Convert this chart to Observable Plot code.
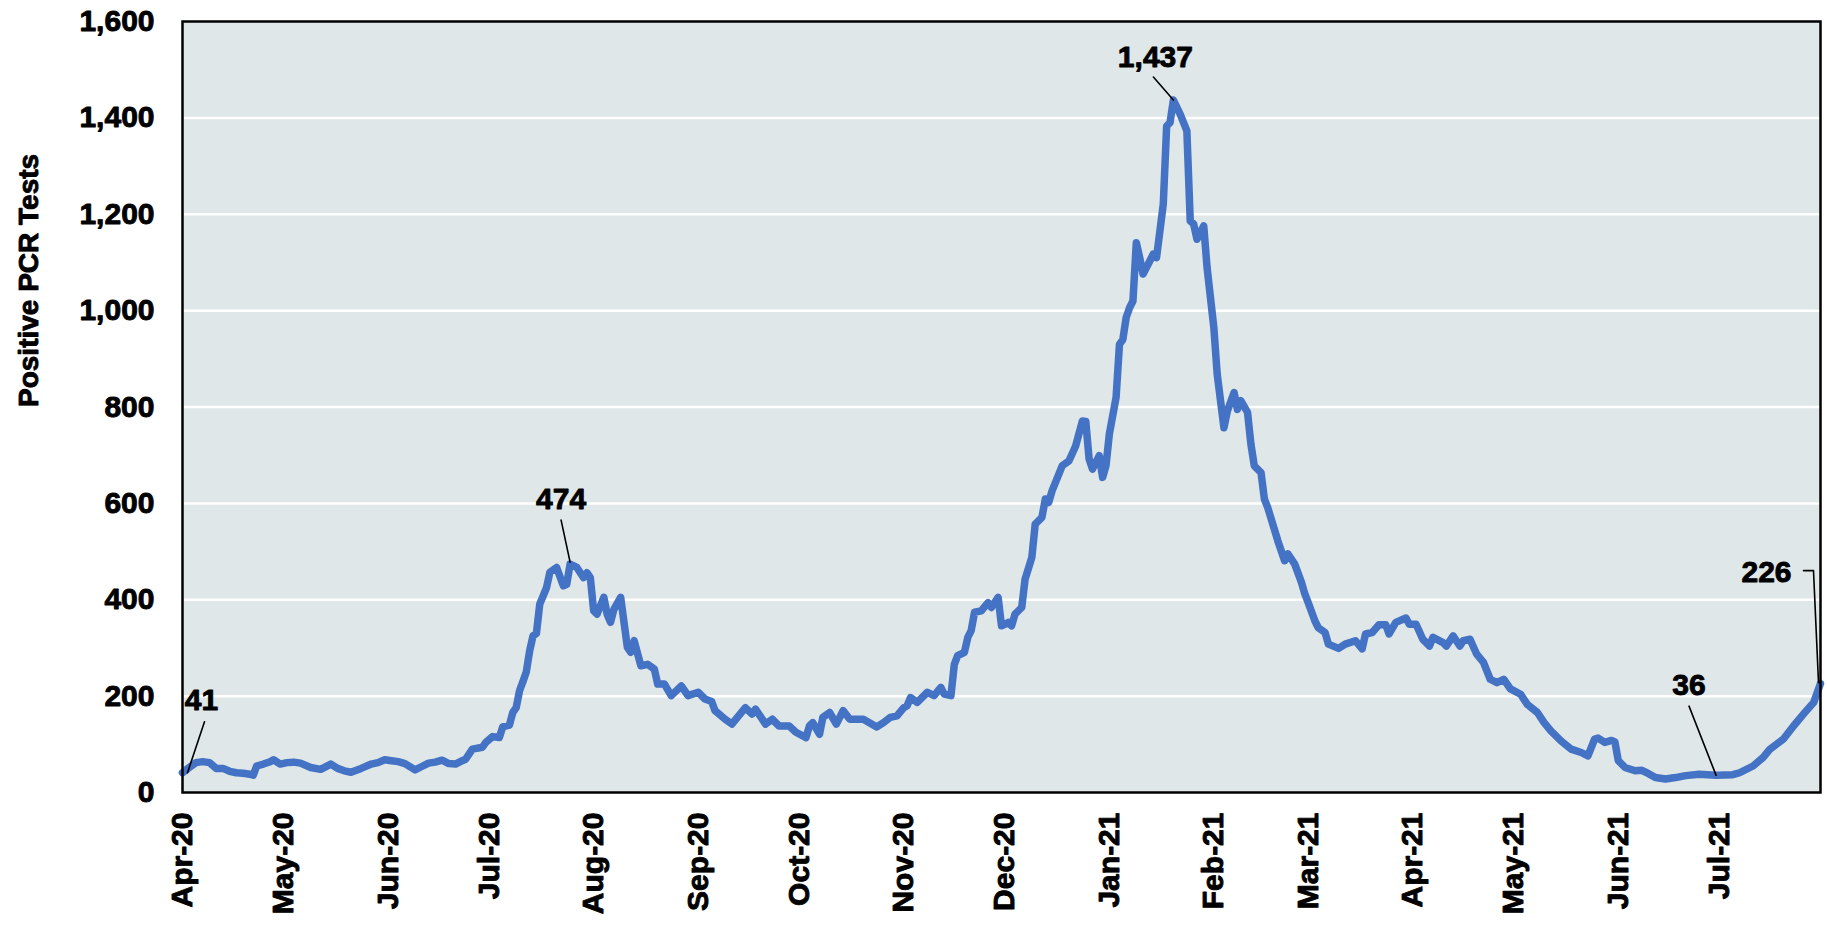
<!DOCTYPE html>
<html>
<head>
<meta charset="utf-8">
<script src="https://cdn.jsdelivr.net/npm/d3@7"></script>
<script src="https://cdn.jsdelivr.net/npm/@observablehq/plot@0.6"></script>
<style>
  html, body { margin: 0; padding: 0; background: #ffffff; }
  #chart svg text { stroke: #000; stroke-width: 0.9px; paint-order: stroke; stroke-linejoin: round; }
</style>
</head>
<body>
<div id="chart"></div>
<script>
// ---------------- DATA ----------------
const startDate = "2020-04-01";
const endDate = "2021-07-31";

// days since startDate
const dayIndex = [
  0,2,4,6,8,10,12,14,16,18,20,21,22,24,26,27,29,31,33,35,38,41,44,46,48,50,53,56,58,60,
  62,64,66,69,71,73,75,77,79,81,83,84,86,89,90,92,94,95,97,98,99,100,101,102,103,104,105,106,108,109,
  111,113,114,115,117,119,120,121,122,123,125,126,127,128,130,132,133,134,136,138,140,141,143,145,148,150,153,155,157,158,
  161,163,165,167,169,170,173,175,177,180,182,185,186,187,189,190,192,194,196,198,202,206,208,210,212,214,215,216,218,221,
  223,225,226,228,229,230,232,233,234,235,237,239,240,242,243,244,245,246,247,249,250,252,253,255,256,257,258,261,263,265,
  267,268,269,270,272,273,274,275,277,278,279,280,281,282,283,284,285,287,288,289,291,292,293,294,296,298,299,300,301,303,
  304,306,307,309,310,312,313,314,316,317,318,320,321,322,325,327,328,330,332,333,334,336,337,339,340,343,345,348,350,351,
  353,355,357,358,360,363,364,366,368,370,371,374,375,377,379,380,382,384,386,388,390,392,394,397,399,402,404,406,409,412,
  415,417,419,420,422,424,425,426,428,431,433,435,437,440,443,446,450,455,460,462,466,469,471,475,478,481,484,486
];

// positive PCR tests (as drawn)
const positiveTests = [
  41,52,62,64,62,50,50,44,41,40,38,36,55,59,64,68,59,62,63,61,52,48,59,50,45,42,50,59,62,68,
  66,64,60,47,54,61,63,67,60,59,66,69,90,94,104,116,114,136,140,166,176,211,230,250,294,325,330,391,425,457,
  467,429,432,474,467,446,456,446,377,370,405,370,353,380,405,301,291,315,263,266,256,225,225,201,221,201,208,194,189,170,
  152,142,159,176,163,173,142,152,138,138,125,114,138,145,121,156,166,142,170,152,152,136,145,156,159,176,180,197,187,208,
  201,218,204,201,266,284,291,322,336,374,377,394,384,405,346,349,353,346,370,384,443,488,557,571,609,602,626,678,688,719,
  771,770,692,671,699,654,678,744,820,930,940,986,1006,1020,1141,1110,1076,1103,1117,1110,1221,1383,1390,1437,1408,1373,1186,1180,1148,1176,
  1089,965,868,757,791,830,795,813,789,723,678,664,609,591,522,481,495,474,436,412,394,356,342,332,308,299,308,315,298,329,
  332,348,348,329,353,362,349,349,318,304,322,311,304,325,304,315,318,287,270,235,228,235,215,204,183,166,145,128,107,90,
  83,76,111,113,104,108,105,66,52,45,46,39,31,28,31,35,38,36,37,41,55,73,90,111,138,163,187,226
];

const yTicks = [0, 200, 400, 600, 800, 1000, 1200, 1400, 1600];
const monthTicks = [
  "2020-04-01","2020-05-01","2020-06-01","2020-07-01","2020-08-01","2020-09-01",
  "2020-10-01","2020-11-01","2020-12-01","2021-01-01","2021-02-01","2021-03-01",
  "2021-04-01","2021-05-01","2021-06-01","2021-07-01"
];
const yTitle = "Positive PCR Tests";

const annotationDates = ["2020-04-01", "2020-07-25", "2021-01-20", "2021-06-30", "2021-07-31"];
const annotationValues = [41, 474, 1437, 36, 226];

// ---------------- BUILD ----------------
const toDate = s => new Date(s + "T00:00:00Z");
const start = toDate(startDate);
const end = toDate(endDate);
const series = dayIndex.map((d, i) => ({date: d3.utcDay.offset(start, d), value: positiveTests[i]}));
const annotations = annotationDates.map((d, i) => ({
  date: toDate(d), value: annotationValues[i], label: d3.format(",")(annotationValues[i])
}));

// label placement (pixel offsets from the annotated point) and leader polylines
const labelOffsets = [[19, -63], [-9, -55], [-18, -33], [-27, -80], [-54, -102]];
const leaderPaths = [
  [[5, 0], [22, -51]],
  [[0, -2], [-9, -44]],
  [[0, 0], [-20, -23]],
  [[0, 0], [-27, -69]],
  [[-2, -1], [-7, -113], [-17, -113]]
];
const polyline = pts => ({
  draw(ctx) {
    ctx.moveTo(pts[0][0], pts[0][1]);
    for (const p of pts.slice(1)) ctx.lineTo(p[0], p[1]);
  }
});

const chart = Plot.plot({
  width: 1827,
  height: 927,
  marginLeft: 182,
  marginRight: 7,
  marginTop: 21,
  marginBottom: 135,
  style: {
    fontFamily: "'Liberation Sans', Arial, sans-serif",
    fontSize: "30px",
    fontWeight: "bold",
    color: "#000",
    background: "#ffffff"
  },
  x: {type: "utc", domain: [start, end]},
  y: {domain: [0, 1600]},
  marks: [
    Plot.frame({fill: "#dfe7e8", stroke: null}),
    Plot.gridY(yTicks.slice(1, -1), {stroke: "#ffffff", strokeOpacity: 1, strokeWidth: 2.5}),
    Plot.line(series, {
      x: "date", y: "value", stroke: "#4472c4", strokeWidth: 7.5,
      strokeLinejoin: "round", strokeLinecap: "round"
    }),
    ...annotations.map((a, i) => Plot.vector([a], {
      x: "date", y: "value", anchor: "start", length: 1, rotate: 0,
      shape: polyline(leaderPaths[i]), stroke: "#000", strokeWidth: 1.6, fill: "none"
    })),
    ...annotations.map((a, i) => Plot.text([a], {
      x: "date", y: "value", text: "label",
      dx: labelOffsets[i][0], dy: labelOffsets[i][1],
      lineAnchor: "bottom", fill: "#000"
    })),
    Plot.frame({stroke: "#000", strokeWidth: 2.5}),
    Plot.axisY(yTicks, {tickSize: 0, tickPadding: 28, tickFormat: d3.format(","), label: null}),
    Plot.axisX(monthTicks.map(toDate), {
      tickSize: 0, tickRotate: -90, tickPadding: 20,
      tickFormat: d3.utcFormat("%b-%y"), label: null
    }),
    Plot.text([yTitle], {
      text: d => d, frameAnchor: "left", rotate: -90, dx: -145,
      lineAnchor: "bottom", fontSize: 28, fill: "#000"
    })
  ]
});

document.getElementById("chart").appendChild(chart);
</script>
</body>
</html>
